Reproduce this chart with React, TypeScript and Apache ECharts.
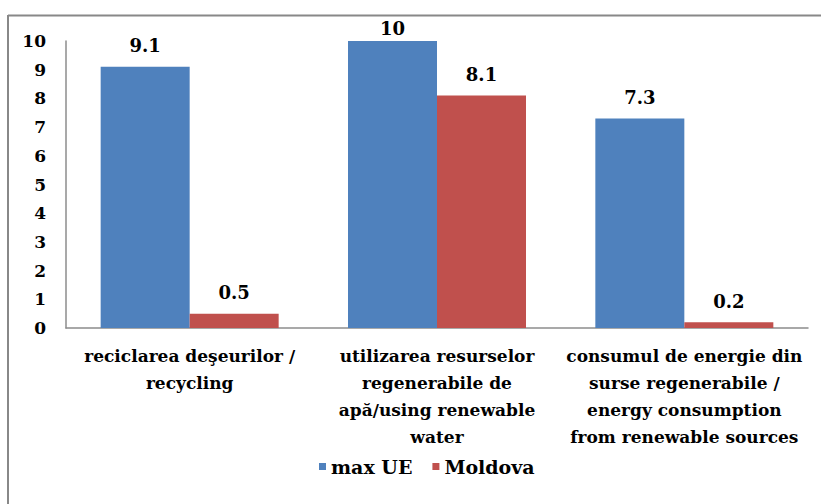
import React, { useEffect, useRef } from "react";
import * as echarts from "echarts";

const categories = [
  "reciclarea deşeurilor /\nrecycling",
  "utilizarea resurselor\nregenerabile de\napă/using renewable\nwater",
  "consumul de energie din\nsurse regenerabile /\nenergy consumption\nfrom renewable sources",
];
const seriesNames = ["max UE", "Moldova"];
const maxUE = [9.1, 10, 7.3];
const moldova = [0.5, 8.1, 0.2];
const yTicks = [0, 1, 2, 3, 4, 5, 6, 7, 8, 9, 10];

const FONT = "DejaVu Serif";
const BLUE = "#4F81BD";
const RED = "#C0504D";
const AXIS = "#8c8c8c";

function withLabels(values: number[]) {
  // the tallest bar touches the top of the plot, so its label sits closer
  return values.map((v) =>
    v >= yTicks[yTicks.length - 1] ? { value: v, label: { distance: 4 } } : v
  );
}

export default function App() {
  const ref = useRef<HTMLDivElement>(null);

  useEffect(() => {
    if (!ref.current) return;
    const chart = echarts.init(ref.current, null, { renderer: "svg" });
    const labelStyle = {
      show: true,
      position: "top" as const,
      distance: 12,
      fontFamily: FONT,
      fontWeight: "bold" as const,
      fontSize: 18,
      color: "#000",
    };
    chart.setOption({
      animation: false,
      backgroundColor: "#fff",
      textStyle: { fontFamily: FONT },
      grid: { left: 66, right: 13, top: 41, bottom: 176 },
      legend: {
        data: seriesNames,
        left: 314,
        top: 452,
        icon: "rect",
        itemWidth: 7,
        itemHeight: 7,
        itemGap: 20,
        textStyle: {
          fontFamily: FONT,
          fontWeight: "bold",
          fontSize: 19,
          color: "#000",
        },
      },
      xAxis: {
        type: "category",
        data: categories,
        axisLine: { lineStyle: { color: AXIS, width: 1.5 } },
        axisTick: { show: false },
        axisLabel: {
          interval: 0,
          margin: 14,
          fontFamily: FONT,
          fontWeight: "bold",
          fontSize: 17,
          lineHeight: 27,
          color: "#000",
        },
      },
      yAxis: {
        type: "value",
        min: yTicks[0],
        max: yTicks[yTicks.length - 1],
        interval: 1,
        splitLine: { show: false },
        axisLine: { show: true, lineStyle: { color: AXIS, width: 1.5 } },
        axisTick: { show: false },
        axisLabel: {
          margin: 20,
          fontFamily: FONT,
          fontWeight: "bold",
          fontSize: 17,
          color: "#000",
        },
      },
      series: [
        {
          name: seriesNames[0],
          type: "bar",
          data: withLabels(maxUE),
          barWidth: 89,
          barGap: "0%",
          itemStyle: { color: BLUE },
          label: labelStyle,
        },
        {
          name: seriesNames[1],
          type: "bar",
          data: withLabels(moldova),
          barWidth: 89,
          barGap: "0%",
          itemStyle: { color: RED },
          label: labelStyle,
        },
      ],
      graphic: [
        {
          type: "line",
          shape: { x1: 8, y1: 15.5, x2: 821, y2: 15.5 },
          style: { stroke: "#888", lineWidth: 2 },
          silent: true,
        },
        {
          type: "line",
          shape: { x1: 8, y1: 15, x2: 8, y2: 504 },
          style: { stroke: "#888", lineWidth: 2 },
          silent: true,
        },
      ],
    });
    return () => chart.dispose();
  }, []);

  return (
    <div
      ref={ref}
      style={{ position: "fixed", left: 0, top: 0, width: 821, height: 504 }}
    />
  );
}
